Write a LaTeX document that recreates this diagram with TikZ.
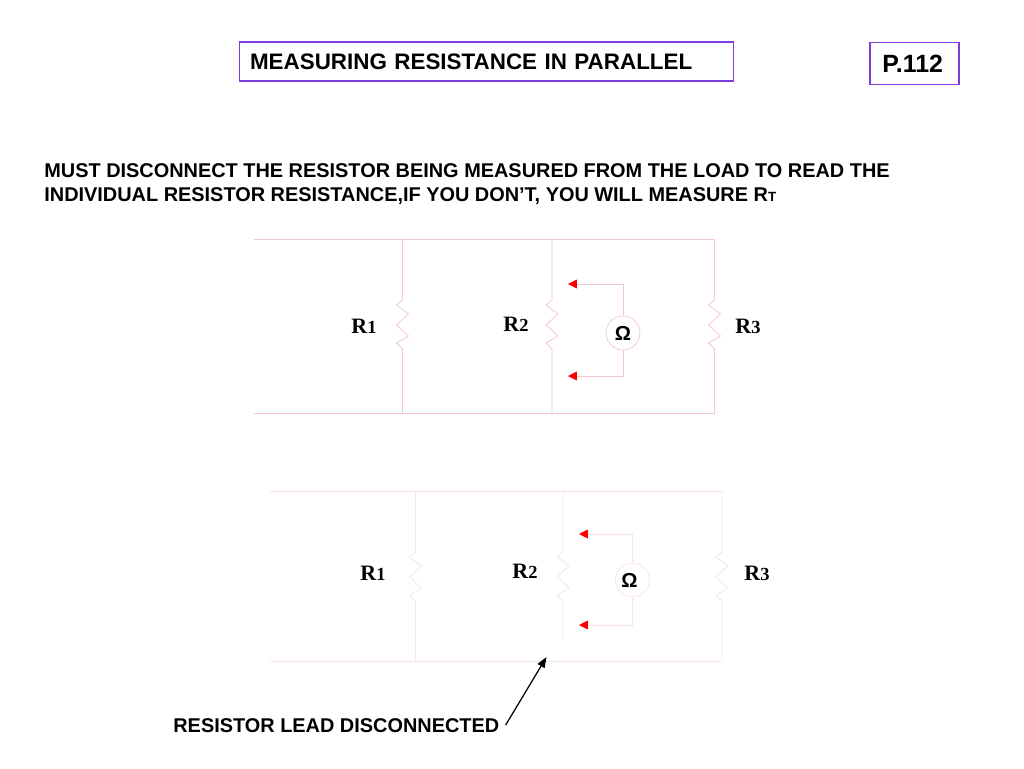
\documentclass[tikz,border=0pt]{standalone}
\usepackage{fontspec}
\setmainfont{Liberation Sans}
\newfontfamily\labelfont{Liberation Serif}
\usetikzlibrary{arrows.meta}
\definecolor{wirea}{RGB}{242,200,200}
\definecolor{wireb}{RGB}{249,226,226}
\definecolor{boxline}{RGB}{128,60,220}
\tikzset{x=0.02cm, y=-0.02cm,
every node/.style={font=\bfseries\fontsize{11.33}{14}\selectfont, inner sep=0pt},
titlebox/.style={draw=boxline, line width=0.6pt},
heading/.style={anchor=base west, align=left},
reslabel/.style={font=\labelfont\bfseries\fontsize{12.5}{14}\selectfont},
meter/.style={circle, draw, minimum size=0.68cm, font=\bfseries\fontsize{11.5}{13}\selectfont},
wire/.style={draw=wirea, line width=0.45pt},
faintwire/.style={draw=wireb, line width=0.45pt},
probe/.style={-{Triangle[length=5pt,width=5pt]}, red},
}
\newcommand{\zig}{-- ++(-6,5) -- ++(12,9) -- ++(-12,11) -- ++(12,11) -- ++(-12,7) -- ++(6,6)}
\newcommand{\rlab}[1]{R{\fontsize{10.5}{12}\selectfont #1}}
\begin{document}
\begin{tikzpicture}
	\useasboundingbox (0,0) rectangle (1024,768);
	% title boxes
	\node[titlebox, minimum height=0.78cm, text width=9.46cm, inner xsep=0.22cm, font=\bfseries\fontsize{12.75}{16}\selectfont] (title) at (486.5,61.5) {\raisebox{-0.5pt}{MEASURING RESISTANCE IN PARALLEL}};
	\node[titlebox, minimum width=1.78cm, minimum height=0.84cm, font=\bfseries\fontsize{14.2}{16}\selectfont] (page) at (914.5,63.5) {P.112\kern 2pt};
	\node[heading] (line1) at (44,177.5) {MUST DISCONNECT THE RESISTOR BEING MEASURED FROM THE LOAD TO READ THE};
	\node[heading] (line2) at (44,201.5) {INDIVIDUAL RESISTOR RESISTANCE,IF YOU DON’T, YOU WILL MEASURE R{\fontsize{7.6}{10}\selectfont T}};
	% upper circuit
	\coordinate (a0) at (254,239);
	\coordinate (a1) at (402.5,239);
	\coordinate (a2) at (552,239);
	\coordinate (a3) at (714.5,239);
	\coordinate (c0) at (254,413);
	\coordinate (c1) at (402.5,413);
	\coordinate (c2) at (552,413);
	\coordinate (c3) at (714.5,413);
	\coordinate (s1) at (402.5,300);
	\coordinate (s2) at (552,300);
	\coordinate (s3) at (714.5,300);
	\draw[wire] (a0) -- (a3);
	\draw[wire] (c0) -- (c3);
	\draw[wire] (a1) -- (s1) \zig -- (c1);
	\draw[wire] (a2) -- (s2) \zig -- (c2);
	\draw[wire] (a3) -- (s3) \zig -- (c3);
	\node[meter, draw=wirea] (ohm1) at (623,333) {\raisebox{-0.5pt}{Ω}};
	\coordinate (tip1) at (568,284);
	\coordinate (tip2) at (568,376);
	\coordinate (bend1) at (576,284);
	\coordinate (bend2) at (576,376);
	\draw[wire] (ohm1) -- (ohm1 |- tip1) -- (bend1);
	\draw[wire] (ohm1) -- (ohm1 |- tip2) -- (bend2);
	\draw[probe] (bend1) -- (tip1);
	\draw[probe] (bend2) -- (tip2);
	\node[reslabel] (r1) at (364,326) {\rlab{1}};
	\node[reslabel] (r2) at (516,324) {\rlab{2}};
	\node[reslabel] (r3) at (748,326) {\rlab{3}};
	% lower circuit, R2 lead open
	\coordinate (d0) at (270,491);
	\coordinate (d1) at (415.5,491);
	\coordinate (d2) at (563,491);
	\coordinate (d3) at (722,491);
	\coordinate (f0) at (270,661);
	\coordinate (f1) at (415.5,661);
	\coordinate (f3) at (722,661);
	\coordinate (g1) at (415.5,552);
	\coordinate (g2) at (563,552);
	\coordinate (g3) at (722,552);
	\coordinate (open) at (563,639);
	\draw[faintwire] (d0) -- (d3);
	\draw[faintwire] (f0) -- (f3);
	\draw[faintwire] (d1) -- (g1) \zig -- (f1);
	\draw[faintwire] (d2) -- (g2) \zig -- (open);
	\draw[faintwire] (d3) -- (g3) \zig -- (f3);
	\node[meter, draw=wireb] (ohm2) at (632.5,580) {\raisebox{-1pt}{Ω}\kern 3.5pt};
	\coordinate (tip3) at (579,534);
	\coordinate (tip4) at (579,625);
	\coordinate (bend3) at (587,534);
	\coordinate (bend4) at (587,625);
	\draw[faintwire] (ohm2) -- (ohm2 |- tip3) -- (bend3);
	\draw[faintwire] (ohm2) -- (ohm2 |- tip4) -- (bend4);
	\draw[probe] (bend3) -- (tip3);
	\draw[probe] (bend4) -- (tip4);
	\node[reslabel] (r4) at (373,573) {\rlab{1}};
	\node[reslabel] (r5) at (525,571) {\rlab{2}};
	\node[reslabel] (r6) at (757,573) {\rlab{3}};
	\node[anchor=base west] (note) at (173,732) {RESISTOR LEAD DISCONNECTED};
	\coordinate (gap) at (546.5,657);
	\draw[-{Triangle[length=6pt,width=4.5pt]}, line width=0.7pt] (note.east) ++(6,0) -- (gap);
\end{tikzpicture}
\end{document}
